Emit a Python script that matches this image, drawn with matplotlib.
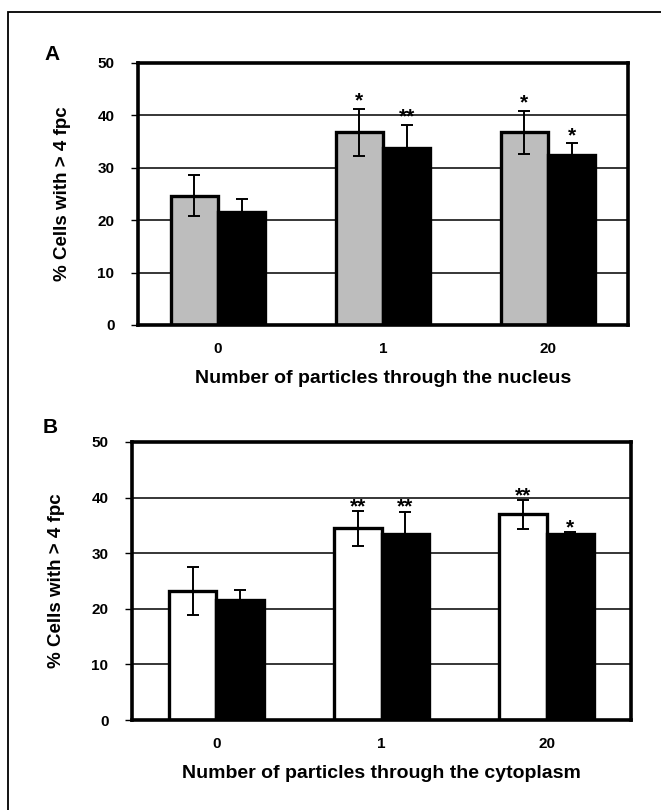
import numpy as np
import matplotlib
matplotlib.use('Agg')
from matplotlib import pyplot as plt
from matplotlib.patches import Rectangle

plt.rcParams['font.family'] = ['Liberation Sans', 'DejaVu Sans']
plt.rcParams['font.weight'] = 'bold'

''' data '''
groups = ['0', '1', '20']

a_first = [24.7, 36.8, 36.8]      # gray bars, panel A
a_first_err = [3.95, 4.5, 4.1]
a_second = [21.5, 33.8, 32.4]     # black bars, panel A
a_second_err = [2.5, 4.4, 2.3]
a_stars_first = ['', '*', '*']
a_stars_second = ['', '**', '*']

b_first = [23.2, 34.5, 37.0]      # white bars, panel B
b_first_err = [4.3, 3.15, 2.6]
b_second = [21.6, 33.5, 33.4]     # black bars, panel B
b_second_err = [1.8, 4.0, 0.4]
b_stars_first = ['', '**', '**']
b_stars_second = ['', '**', '*']

yticks = [0, 10, 20, 30, 40, 50]
ylabel = '% Cells with > 4 fpc'
xlabel_a = 'Number of particles through the nucleus'
xlabel_b = 'Number of particles through the cytoplasm'

W, H = 661, 810
fig = plt.figure(figsize=(W / 100, H / 100), dpi=100)

# outer frame of the figure
fig.patches.append(Rectangle((8 / W, -0.1), 1.2, 1 - 12 / H + 0.1,
                             transform=fig.transFigure, fill=False,
                             edgecolor='black', lw=1.3))


def px_axes(x0, y0, x1, y1):
    return fig.add_axes([x0 / W, 1 - y1 / H, (x1 - x0) / W, (y1 - y0) / H])


def panel(ax, first, first_err, second, second_err, s1, s2, color1, xlabel, xlim, star_off, xpad):
    x = np.arange(len(groups))
    bw = 0.287
    ax.set_axisbelow(True)
    ax.yaxis.grid(True, color='black', lw=1.1)
    ax.bar(x - bw / 2, first, bw, color=color1, edgecolor='black', lw=2.4, zorder=2)
    ax.bar(x + bw / 2, second, bw, color='black', edgecolor='black', lw=2.4, zorder=2)
    ax.errorbar(x - bw / 2, first, yerr=first_err, fmt='none', ecolor='black',
                elinewidth=1.4, capsize=4.5, capthick=1.4, zorder=3)
    ax.errorbar(x + bw / 2, second, yerr=second_err, fmt='none', ecolor='black',
                elinewidth=1.4, capsize=4.5, capthick=1.4, zorder=3)
    for i in range(len(groups)):
        for xx, v, e, s in [(x[i] - bw / 2, first[i], first_err[i], s1[i]),
                            (x[i] + bw / 2, second[i], second_err[i], s2[i])]:
            if s:
                ax.annotate(s, (xx, v + e), xytext=(0, star_off), textcoords='offset points',
                            ha='center', va='baseline', fontsize=15, fontweight='bold')
    ax.set_ylim(0, 50)
    ax.set_xlim(*xlim)
    ax.set_yticks(yticks)
    ax.set_yticklabels([str(t) for t in yticks], fontsize=11, fontweight='bold')
    ax.set_xticks(x)
    ax.set_xticklabels(groups, fontsize=11, fontweight='bold')
    ax.tick_params(axis='x', length=0, pad=12)
    ax.tick_params(axis='y', length=5, width=1, pad=12)
    for sp in ax.spines.values():
        sp.set_linewidth(2.6)
        sp.set_zorder(4)
    ax.set_xlabel(xlabel, fontsize=14, fontweight='bold', labelpad=xpad)
    ax.set_ylabel(ylabel, fontsize=13.5, fontweight='bold', labelpad=19)


ax1 = px_axes(138, 63, 628, 325)
panel(ax1, a_first, a_first_err, a_second, a_second_err, a_stars_first,
      a_stars_second, '#bdbdbd', xlabel_a, (-0.485, 2.485), 1.5, 10)
fig.text(52 / W, 1 - 55 / H, 'A', fontsize=15, fontweight='bold', ha='center', va='center')

ax2 = px_axes(132, 442, 631, 720)
panel(ax2, b_first, b_first_err, b_second, b_second_err, b_stars_first,
      b_stars_second, 'white', xlabel_b, (-0.51, 2.51), -1.0, 10)
fig.text(50 / W, 1 - 428 / H, 'B', fontsize=15, fontweight='bold', ha='center', va='center')

plt.savefig('out.png', dpi=100)
